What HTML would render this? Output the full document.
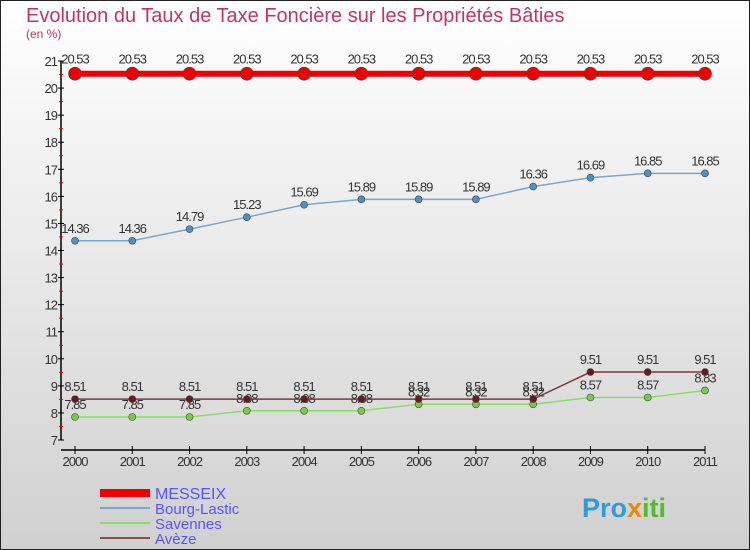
<!DOCTYPE html>
<html><head><meta charset="utf-8"><style>
body{margin:0;width:750px;height:550px;overflow:hidden;font-family:"Liberation Sans",sans-serif}
svg{display:block}
</style></head><body>
<svg id="c" width="750" height="550" viewBox="0 0 750 550">
<defs><linearGradient id="bg" x1="0" y1="0" x2="0" y2="1"><stop offset="0" stop-color="#ffffff"/><stop offset="1" stop-color="#d0d0d0"/></linearGradient></defs>
<rect x="0.5" y="0.5" width="749" height="549" fill="url(#bg)" stroke="#222"/>
<text x="26" y="22" font-size="20" fill="#c0356a">Evolution du Taux de Taxe Foncière sur les Propriétés Bâties</text>
<text x="26" y="38" font-size="12" fill="#c0356a">(en %)</text>
<g id="axes"></g><g id="series"></g>
<g>
<rect x="100" y="489" width="50" height="8" fill="#e00"/>
<line x1="100" y1="508" x2="150" y2="508" stroke="#7aa8cc" stroke-width="2"/>
<line x1="100" y1="523" x2="150" y2="523" stroke="#88dd66" stroke-width="2"/>
<line x1="100" y1="538" x2="150" y2="538" stroke="#8a5050" stroke-width="2"/>
<text x="155" y="499" font-size="16" fill="#5555ff">MESSEIX</text>
<text x="155" y="514" font-size="15" fill="#5555ff">Bourg-Lastic</text>
<text x="155" y="529" font-size="15" fill="#5555ff">Savennes</text>
<text x="155" y="544" font-size="15" fill="#5555ff">Avèze</text>
</g>
<text x="582" y="517" font-size="27" font-weight="bold" fill="#3399dd">Pro<tspan fill="#ee8800">x</tspan><tspan fill="#55bb33">iti</tspan></text>
</svg>
<script>
const years=[2000,2001,2002,2003,2004,2005,2006,2007,2008,2009,2010,2011];
const messeix=[20.53,20.53,20.53,20.53,20.53,20.53,20.53,20.53,20.53,20.53,20.53,20.53];
const bourg=[14.36,14.36,14.79,15.23,15.69,15.89,15.89,15.89,16.36,16.69,16.85,16.85];
const savennes=[7.85,7.85,7.85,8.08,8.08,8.08,8.32,8.32,8.32,8.57,8.57,8.83];
const aveze=[8.51,8.51,8.51,8.51,8.51,8.51,8.51,8.51,8.51,9.51,9.51,9.51];
const yTicks=[7,8,9,10,11,12,13,14,15,16,17,18,19,20,21];
const NS="http://www.w3.org/2000/svg";
const X=i=>75+i*(705-75)/(years.length-1);
const Y=v=>440-(v-7)*(440-61)/14;
function mk(t,a,p){const e=document.createElementNS(NS,t);for(const k in a)e.setAttribute(k,a[k]);p.appendChild(e);return e;}
const ax=document.getElementById('axes');
const yl=mk('line',{x1:61,y1:Y(21),x2:61,y2:440,stroke:'#000','stroke-width':1.5},ax);


const xl=mk('line',{x1:61,y1:450,x2:705,y2:450,stroke:'#000','stroke-width':1.5},ax);


yTicks.forEach(v=>{
  mk('line',{x1:58,y1:Y(v),x2:64,y2:Y(v),stroke:'#000'},ax);
  if(v<21) mk('line',{x1:59,y1:Y(v+0.5),x2:63,y2:Y(v+0.5),stroke:'#e00'},ax);
  const t=mk('text',{x:57,y:Y(v)+5,'font-size':13,'text-anchor':'end',fill:'#333','letter-spacing':'-1'},ax);
  t.textContent=v;
  
  
});
years.forEach((y,i)=>{
  mk('line',{x1:X(i),y1:446,x2:X(i),y2:454,stroke:'#000'},ax);
  const t=mk('text',{x:X(i),y:466,'font-size':13,'text-anchor':'middle',fill:'#333','letter-spacing':'-1'},ax);
  t.textContent=y;
  
  
});
const sg=document.getElementById('series');
function series(name,vals,color,dot,lw,r,dy){
  const g=mk('g',{},sg);
  
  
  const p=mk('polyline',{points:vals.map((v,i)=>X(i)+','+Y(v)).join(' '),fill:'none',stroke:color,'stroke-width':lw},g);
  
  
  vals.forEach((v,i)=>{
    const c=mk('circle',{cx:X(i),cy:Y(v),r:r,fill:dot,stroke:'#444','stroke-width':0.6},g);
    
    
    const t=mk('text',{x:X(i),y:Y(v)+dy,'font-size':13,'text-anchor':'middle',fill:'#333','letter-spacing':'-1'},g);
    t.textContent=v.toFixed(2).replace(/0$/,'').replace(/\.$/,'');
    
    
  });
}
series('bourg-lastic',bourg,'#7aa8cc','#4f8fc4',1.5,3.5,-8);
series('savennes',savennes,'#88dd66','#77cc44',1.5,3.5,-8);
series('aveze',aveze,'#7a3a3a','#6a1a1a',1.5,3.5,-8);
series('messeix',messeix,'#e00','#e00',6,6.5,-10);
</script>
</body></html>
